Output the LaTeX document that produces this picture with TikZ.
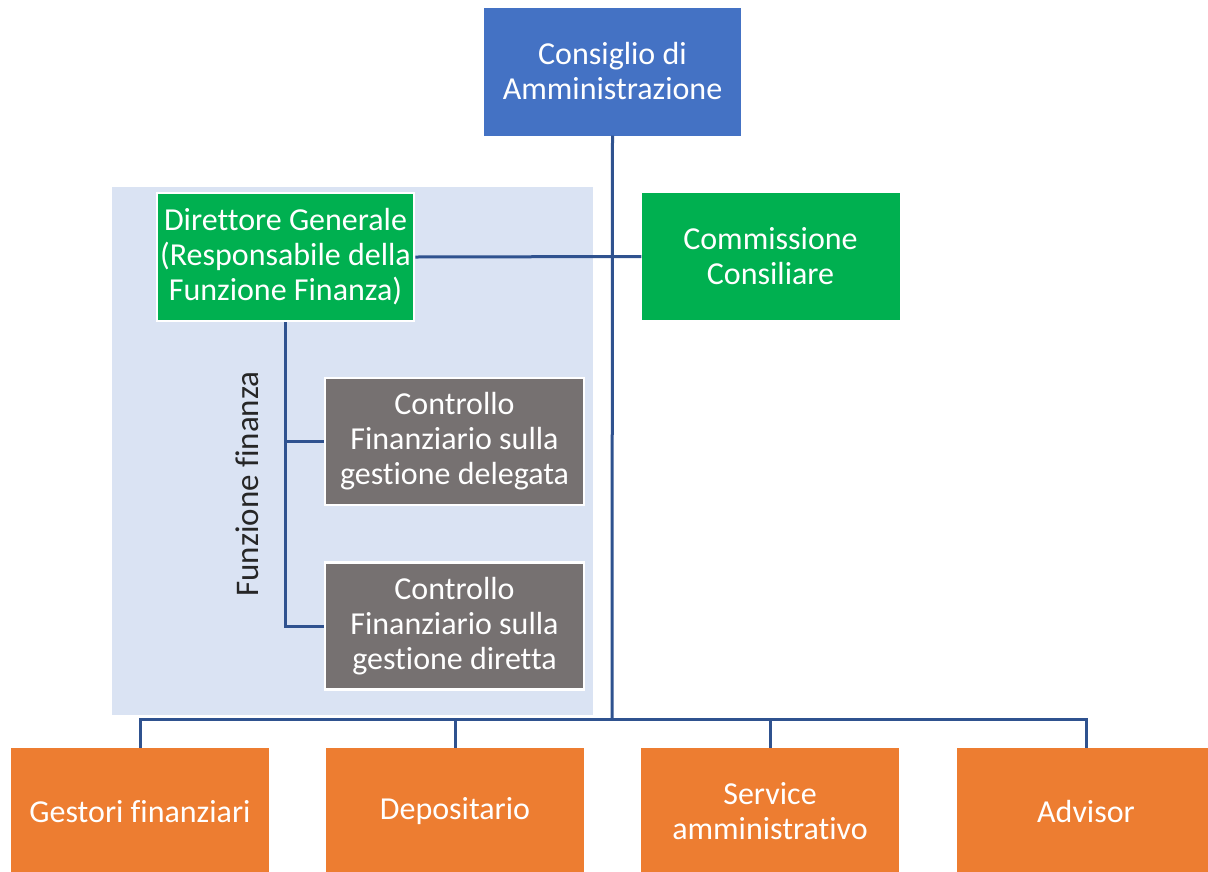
\documentclass[tikz,border=0pt]{standalone}
\usepackage{fontspec}
\setmainfont{Carlito}[Ligatures={NoCommon}]
\definecolor{cdablue}{HTML}{4472C4}
\definecolor{dggreen}{HTML}{00B050}
\definecolor{ctrlgrey}{HTML}{767171}
\definecolor{extorange}{HTML}{ED7D31}
\definecolor{bgblue}{HTML}{DAE3F3}
\definecolor{connblue}{HTML}{2F528F}
\definecolor{labelgrey}{HTML}{262626}
\begin{document}
\begin{tikzpicture}[x=1pt,y=-1pt,
  box/.style={inner sep=0pt, align=center, text=white,
    font=\fontsize{32}{35}\selectfont, minimum width=257pt, minimum height=127pt},
  bluebox/.style={box, fill=cdablue},
  greenbox/.style={box, fill=dggreen},
  greenwhite/.style={box, fill=dggreen, draw=white, line width=2.5pt},
  greybox/.style={box, fill=ctrlgrey, draw=white, line width=2.5pt, minimum width=259pt},
  orangebox/.style={box, fill=extorange, minimum width=258pt},
  conn/.style={draw=connblue, line width=3pt}
]
\useasboundingbox (0,0) rectangle (1208,871);
% background of Funzione finanza
\fill[bgblue] (112,187) rectangle (593,715);

\node[bluebox, minimum height=128pt] (cda) at (612.5,71.5) {Consiglio di\\Amministrazione};
\node[greenwhite, minimum height=128pt] (dg) at (285.5,257) {Direttore Generale\\(Responsabile della\\Funzione Finanza)};
\node[greenbox, minimum width=258pt] (comm) at (770.5,256.5) {Commissione\\Consiliare};
\node[greybox] (c1) at (454.5,441.5) {Controllo\\Finanziario sulla\\gestione delegata};
\node[greybox] (c2) at (454.5,626) {Controllo\\Finanziario sulla\\gestione diretta};

\node[orangebox] (gest) at (140,811.5) {Gestori finanziari};
\node[orangebox] (dep) at (455,811.5) {Depositario};
\node[orangebox] (serv) at (770,811.5) {Service\\amministrativo};
\node[orangebox] (adv) at (1086,811.5) {Advisor};

\node[rotate=90, inner sep=0pt, text=labelgrey, font=\fontsize{33}{36}\selectfont] (ff) at (247,484) {Funzione finanza};

\coordinate (bus) at (612,719);

% connectors
\draw[conn] (cda.south) -- (bus);
\draw[conn] (dg.east) -- (comm.west);
\draw[conn] (dg.south) -- (dg.south |- c2.west) -- (c2.west);
\draw[conn] (dg.south |- c1.west) -- (c1.west);
\draw[conn] (gest.north) -- (gest.north |- bus) -- (adv.north |- bus) -- (adv.north);
\draw[conn] (dep.north) -- (dep.north |- bus);
\draw[conn] (serv.north) -- (serv.north |- bus);
\end{tikzpicture}
\end{document}
